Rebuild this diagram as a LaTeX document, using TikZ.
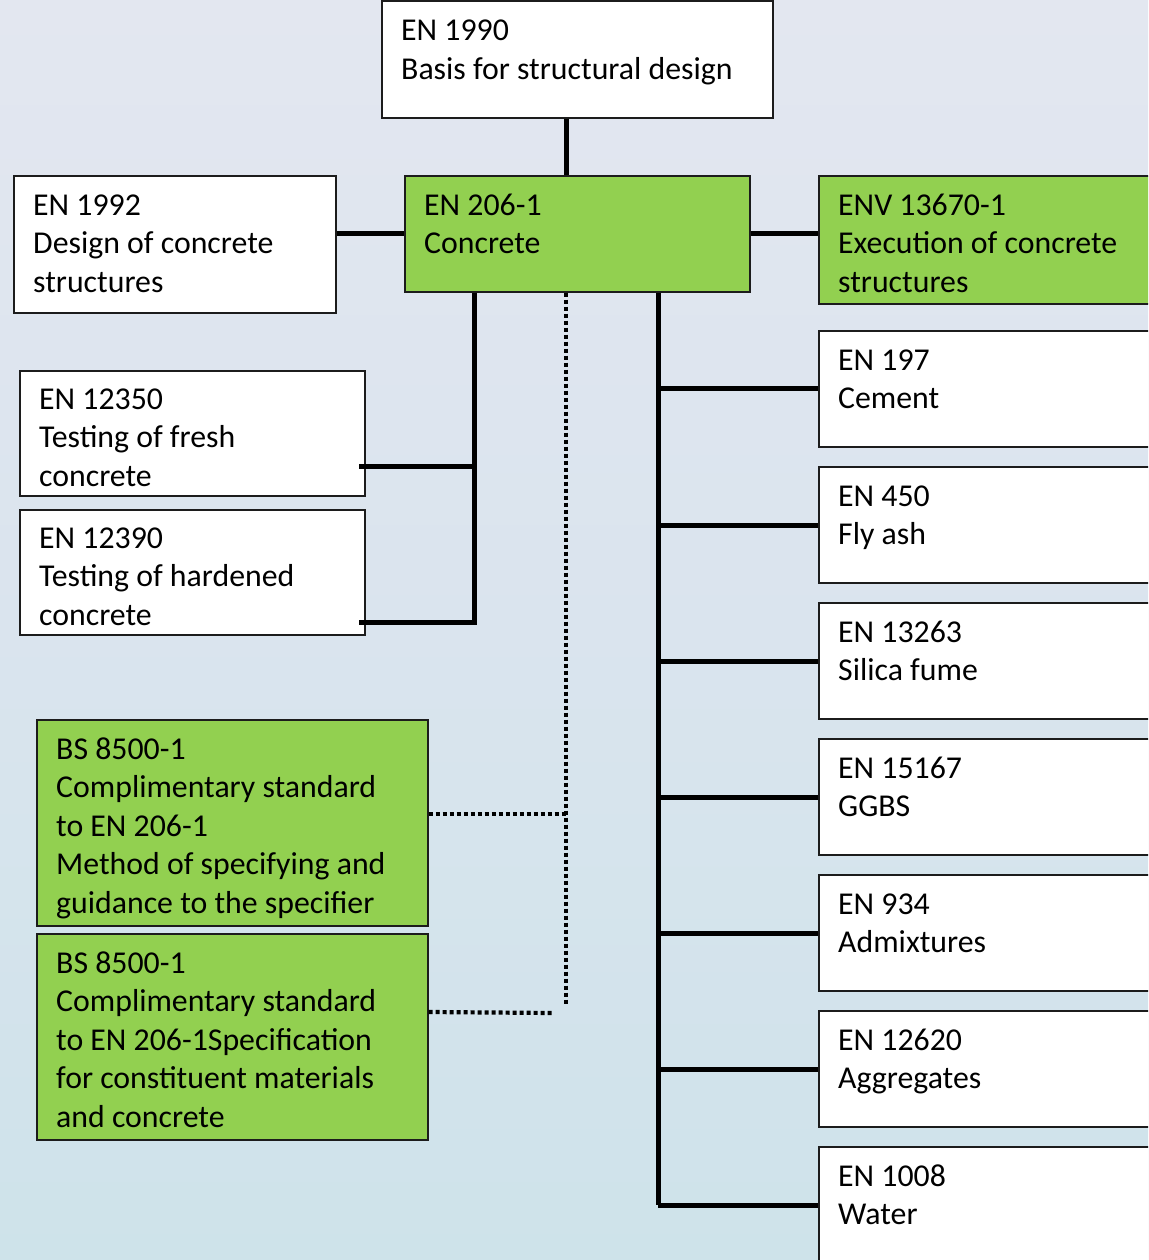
\documentclass[tikz,border=0pt]{standalone}
\usepackage{fontspec}
\setmainfont{Carlito}
\definecolor{leaf}{HTML}{92D050}
\definecolor{skytop}{RGB}{227,231,240}
\definecolor{skymid}{RGB}{218,228,238}
\definecolor{skybot}{RGB}{206,227,234}
\definecolor{edge}{HTML}{1C1C1C}
\tikzset{
  stdbox/.style={draw=edge, line width=1.6pt, rectangle, inner sep=0pt, anchor=north west},
  plainbox/.style={stdbox, fill=white},
  greenbox/.style={stdbox, fill=leaf},
  caption/.style={anchor=base west, inner sep=0pt},
  conn/.style={line width=5pt, black},
  dotconn/.style={line width=4.2pt, black, dash pattern=on 4pt off 3pt},
}
\newcommand{\boxtext}[1]{\parbox[t]{420pt}{\fontsize{31.8}{38.5}\selectfont\raggedright #1}}
\begin{document}
\begin{tikzpicture}[x=1pt,y=-1pt]
\clip (0,0) rectangle (1148,1260);
\shade[top color=skytop, bottom color=skybot, middle color=skymid] (0,0) rectangle (1148,1260);

% --- boxes (top-left corner, size) ---
\node[plainbox, minimum width=391, minimum height=117] (n1990) at (381,0) {};
\node[plainbox, minimum width=322, minimum height=137] (n1992) at (13,175) {};
\node[greenbox, minimum width=345, minimum height=116] (n206) at (404,175) {};
\node[greenbox, minimum width=345, minimum height=128] (n13670) at (818,175) {};
\node[plainbox, minimum width=345, minimum height=125] (n12350) at (19,370) {};
\node[plainbox, minimum width=345, minimum height=125] (n12390) at (19,509) {};
\node[greenbox, minimum width=391, minimum height=206] (bsA) at (36,719) {};
\node[greenbox, minimum width=391, minimum height=206] (bsB) at (36,933) {};
\node[plainbox, minimum width=345, minimum height=116] (n197) at (818,330) {};
\node[plainbox, minimum width=345, minimum height=116] (n450) at (818,466) {};
\node[plainbox, minimum width=345, minimum height=116] (n13263) at (818,602) {};
\node[plainbox, minimum width=345, minimum height=116] (n15167) at (818,738) {};
\node[plainbox, minimum width=345, minimum height=116] (n934) at (818,874) {};
\node[plainbox, minimum width=345, minimum height=116] (n12620) at (818,1010) {};
\node[plainbox, minimum width=345, minimum height=140] (n1008) at (818,1146) {};

% --- captions ---
\node[caption] at ([shift={(20,41)}]n1990.north west) {\boxtext{EN 1990\\Basis for structural design}};
\node[caption] at ([shift={(20,40)}]n1992.north west) {\boxtext{EN 1992\\Design of concrete\\structures}};
\node[caption] at ([shift={(20,40)}]n206.north west) {\boxtext{EN 206-1\\Concrete}};
\node[caption] at ([shift={(20,40)}]n13670.north west) {\boxtext{ENV 13670-1\\Execution of concrete\\structures}};
\node[caption] at ([shift={(20,39)}]n12350.north west) {\boxtext{EN 12350\\Testing of fresh\\concrete}};
\node[caption] at ([shift={(20,39)}]n12390.north west) {\boxtext{EN 12390\\Testing of hardened\\concrete}};
\node[caption] at ([shift={(20,40)}]bsA.north west) {\boxtext{BS 8500-1\\Complimentary standard\\to EN 206-1\\Method of specifying and\\guidance to the specifier}};
\node[caption] at ([shift={(20,40)}]bsB.north west) {\boxtext{BS 8500-1\\Complimentary standard\\to EN 206-1Specification\\for constituent materials\\and concrete}};
\node[caption] at ([shift={(20,40)}]n197.north west) {\boxtext{EN 197\\Cement}};
\node[caption] at ([shift={(20,40)}]n450.north west) {\boxtext{EN 450\\Fly ash}};
\node[caption] at ([shift={(20,40)}]n13263.north west) {\boxtext{EN 13263\\Silica fume}};
\node[caption] at ([shift={(20,40)}]n15167.north west) {\boxtext{EN 15167\\GGBS}};
\node[caption] at ([shift={(20,40)}]n934.north west) {\boxtext{EN 934\\Admixtures}};
\node[caption] at ([shift={(20,40)}]n12620.north west) {\boxtext{EN 12620\\Aggregates}};
\node[caption] at ([shift={(20,40)}]n1008.north west) {\boxtext{EN 1008\\Water}};

% --- trunk positions ---
\coordinate (colTop) at (566,0);
\coordinate (colTest) at (474,0);
\coordinate (colMat) at (658,0);
\coordinate (testA) at (359,466);
\coordinate (testB) at (359,622);
\coordinate (dotEnd) at (566,1005);
\coordinate (dotB) at (554,1013);

% --- solid connectors ---
\draw[conn] (n1990.south -| colTop) -- (n206.north -| colTop);
\draw[conn] (n1992.east |- 0,233) -- (n206.west |- 0,233);
\draw[conn] (n206.east |- 0,233) -- (n13670.west |- 0,233);
\draw[conn] (n206.south -| colTest) -- (testB -| colTest) -- (testB);
\draw[conn] (testA) -- (testA -| colTest);
\draw[conn] (n206.south -| colMat) -- (colMat |- 0,1205);
\foreach \n/\y in {n197/388, n450/525, n13263/661, n15167/797, n934/933, n12620/1069, n1008/1205}
  \draw[conn] (colMat |- 0,\y) -- (\n.west |- 0,\y);

% --- dotted links to the complementary standards ---
\draw[dotconn] (n206.south -| colTop) -- (dotEnd);
\draw[dotconn] (bsA.east |- 0,814) -- (colTop |- 0,814);
\draw[dotconn] (bsB.east |- 0,1012) -- (dotB);
\end{tikzpicture}
\end{document}
